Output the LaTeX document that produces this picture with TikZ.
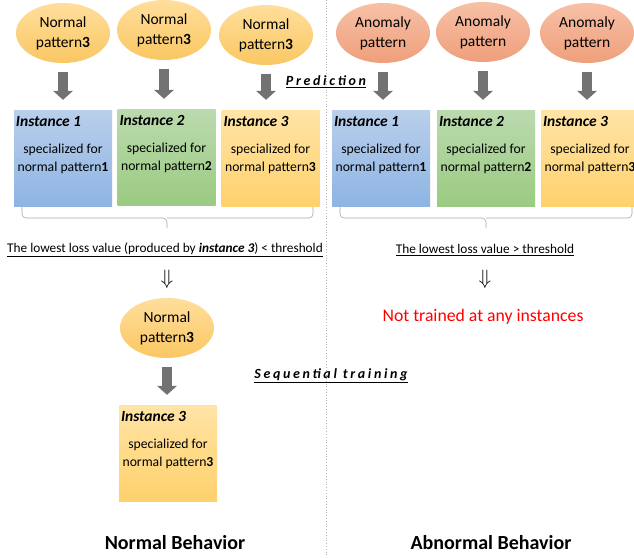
\documentclass[tikz,border=0pt]{standalone}
\usepackage{fontspec}
\setmainfont{Carlito}
\usetikzlibrary{shapes.geometric,arrows.meta,positioning,calc}
\definecolor{ellT}{HTML}{FFDE9C}
\definecolor{ellB}{HTML}{FAC762}
\definecolor{anoT}{HTML}{F7C0A6}
\definecolor{anoB}{HTML}{EF9F7B}
\definecolor{bluT}{HTML}{B9CFEB}
\definecolor{bluB}{HTML}{8EB4E3}
\definecolor{grnT}{HTML}{BBDAAE}
\definecolor{grnB}{HTML}{9BCB82}
\definecolor{orgT}{HTML}{FFE4A6}
\definecolor{orgB}{HTML}{FFD16C}
\definecolor{arrgray}{HTML}{727272}

\begin{document}
\begin{tikzpicture}[x=1pt,y=-1pt,
  normpat/.style={ellipse,inner sep=0pt,minimum width=94pt,minimum height=60pt,top color=ellT,bottom color=ellB,align=center,font=\fontsize{15.5}{20}\selectfont},
  anompat/.style={normpat,top color=anoT,bottom color=anoB},
  inst/.style={rectangle,minimum width=98pt,minimum height=96pt,inner sep=0pt},
  ttl/.style={font=\fontsize{15.5}{17}\selectfont\bfseries\itshape,inner sep=1pt},
  spec/.style={font=\fontsize{13.7}{18}\selectfont,align=center,inner sep=0pt},
  feed/.style={line width=10pt,arrgray,-{Triangle[length=9pt,width=20pt,line width=0pt]},shorten <=9pt,shorten >=10pt},
  brk/.style={draw=gray!70,line width=0.6pt,rounded corners=4pt},
  stage/.style={font=\fontsize{14}{16}\selectfont\bfseries\itshape\addfontfeature{LetterSpace=19}},
  loss/.style={font=\fontsize{13.3}{15}\selectfont},
  beh/.style={font=\fontsize{20}{22}\selectfont\bfseries}]
\useasboundingbox (0,0) rectangle (634,557);

% divider
\draw[gray!60,dotted,line width=0.8pt] (326,0) -- (326,557);

% input patterns
\node[normpat] (n1) at (63,33) {Normal\\pattern\textbf{3}};
\node[normpat] (n2) at (164,30) {Normal\\pattern\textbf{3}};
\node[normpat] (n3) at (266,35) {Normal\\pattern\textbf{3}};
\node[anompat] (a1) at (383,33) {Anomaly\\pattern};
\node[anompat] (a2) at (483,32) {Anomaly\\pattern};
\node[anompat] (a3) at (587,33) {Anomaly\\pattern};

% instances
\node[inst,top color=bluT,bottom color=bluB] (b1) at (63,158) {};
\node[inst,top color=grnT,bottom color=grnB] (b2) at (166.5,157) {};
\node[inst,top color=orgT,bottom color=orgB] (b3) at (270.5,158) {};
\node[inst,top color=bluT,bottom color=bluB] (r1) at (381,158) {};
\node[inst,top color=grnT,bottom color=grnB] (r2) at (486,158) {};
\node[inst,top color=orgT,bottom color=orgB] (r3) at (590,158) {};
\node[inst,top color=orgT,bottom color=orgB] (mb) at (168,453) {};

\foreach \b/\k in {b1/1,b2/2,b3/3,r1/1,r2/2,r3/3,mb/3}{
  \node[ttl,anchor=west] (\b t) at ($(\b.north west)+(1,12)$) {Instance \k};
  \node[spec] (\b s) at ($(\b.north)+(0,49)$) {specialized for\\normal pattern\textbf{\k}};
}

% feeding arrows
\foreach \e/\b in {n1/b1,n2/b2,n3/b3,a1/r1,a2/r2,a3/r3}
  \draw[feed] (\e.south) -- (\e.south |- \b.north);
\node[normpat] (m) at (167,328) {Normal\\pattern\textbf{3}};
\draw[feed] (m.south) -- (m.south |- mb.north);

% brackets
\draw[brk] (22,207) |- (167,218) -- (167,228);
\draw[brk] (313,207) |- (167,218);
\draw[brk] (340,207) |- (486,218) -- (486,228);
\draw[brk] (632,207) |- (486,218);

% labels
\node[stage] (pred) at (326,82) {\underline{Prediction}};
\node[stage] (seq) at (331,376) {\underline{Sequential training}};
\node[loss] (lossL) at (165,250) {\underline{The lowest loss value (produced by \textbf{\textit{instance 3}}) < threshold}};
\node[loss] (lossR) at (485,250) {\underline{The lowest loss value > threshold}};
\node[font=\fontsize{22}{24}\selectfont] (impL) at (167,279) {$\Downarrow$};
\node[font=\fontsize{22}{24}\selectfont] (impR) at (485,279) {$\Downarrow$};
\node[font=\fontsize{17.7}{20}\selectfont,text=red] (notr) at (483,317) {Not trained at any instances};
\node[beh] (behN) at (175,543) {Normal Behavior};
\node[beh] (behA) at (491,543) {Abnormal Behavior};
\end{tikzpicture}
\end{document}
